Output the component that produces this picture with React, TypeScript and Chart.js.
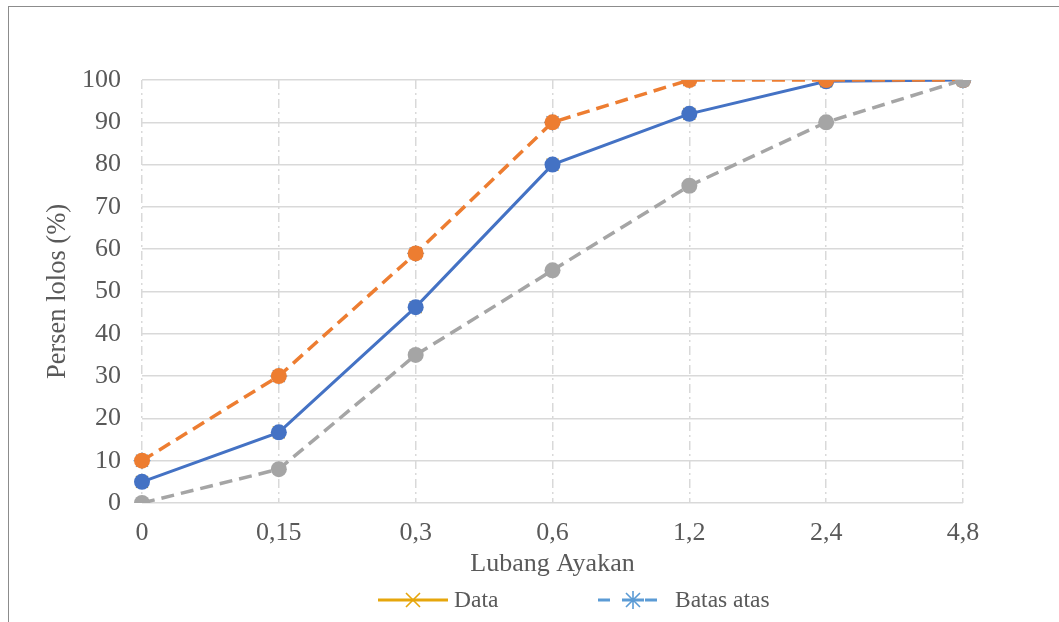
import React, { useEffect, useRef } from 'react';
import { Chart, registerables } from 'chart.js';

Chart.register(...registerables);

// Sieve opening sizes (mm) and percentage passing
const sieveSizes = ['0', '0,15', '0,3', '0,6', '1,2', '2,4', '4,8'];
const passingData = [5, 16.7, 46.3, 80, 92, 99.7, 100];
const upperLimit = [10, 30, 59, 90, 100, 100, 100];
const lowerLimit = [0, 8, 35, 55, 75, 90, 100];
const yRange = [0, 100];
const yStep = 10;
const legendLabels = ['Data', 'Batas atas'];

const BLUE = '#4472C4';
const ORANGE = '#ED7D31';
const GRAY = '#A5A5A5';
const GOLD = '#E6A60C';
const LIGHT_BLUE = '#5B9BD5';
const TEXT = '#595959';
const GRID = '#D9D9D9';
const FONT = '"Liberation Serif", "Times New Roman", serif';

const legendPlugin = {
  id: 'gradationLegend',
  afterDraw(chart: any) {
    const ctx = chart.ctx;
    const y = 600;
    ctx.save();
    ctx.font = `23.5px ${FONT}`;
    ctx.fillStyle = TEXT;
    ctx.textBaseline = 'middle';
    ctx.textAlign = 'left';

    // "Data": solid gold line with an x marker
    ctx.strokeStyle = GOLD;
    ctx.lineWidth = 3;
    ctx.beginPath();
    ctx.moveTo(378, y);
    ctx.lineTo(448, y);
    ctx.stroke();
    ctx.lineWidth = 1.6;
    ctx.beginPath();
    ctx.moveTo(406, y - 7);
    ctx.lineTo(420, y + 7);
    ctx.moveTo(420, y - 7);
    ctx.lineTo(406, y + 7);
    ctx.stroke();
    ctx.fillText(legendLabels[0], 454, y + 1);

    // "Batas atas": dashed blue line with an asterisk marker
    ctx.strokeStyle = LIGHT_BLUE;
    ctx.lineWidth = 3;
    ctx.beginPath();
    ctx.moveTo(598, y);
    ctx.lineTo(610, y);
    ctx.moveTo(645, y);
    ctx.lineTo(657, y);
    ctx.moveTo(622, y);
    ctx.lineTo(644, y);
    ctx.stroke();
    ctx.lineWidth = 1.6;
    ctx.beginPath();
    ctx.moveTo(633, y - 9);
    ctx.lineTo(633, y + 9);
    ctx.moveTo(626, y - 7);
    ctx.lineTo(640, y + 7);
    ctx.moveTo(640, y - 7);
    ctx.lineTo(626, y + 7);
    ctx.stroke();
    ctx.fillText(legendLabels[1], 675, y + 1);
    ctx.restore();
  },
};

export default function App() {
  const canvasRef = useRef<HTMLCanvasElement | null>(null);

  useEffect(() => {
    const canvas = canvasRef.current;
    if (!canvas) return;
    const chart = new Chart(canvas, {
      type: 'line',
      data: {
        labels: sieveSizes,
        datasets: [
          {
            label: 'Batas bawah',
            data: lowerLimit,
            borderColor: GRAY,
            backgroundColor: GRAY,
            borderWidth: 3.5,
            borderDash: [13, 7],
            pointRadius: 8,
            pointBackgroundColor: GRAY,
            pointBorderColor: GRAY,
            pointBorderWidth: 0,
            tension: 0,
            order: 1,
          },
          {
            label: 'Batas atas ',
            data: upperLimit,
            borderColor: ORANGE,
            backgroundColor: ORANGE,
            borderWidth: 3.5,
            borderDash: [13, 7],
            pointRadius: 8,
            pointBackgroundColor: ORANGE,
            pointBorderColor: ORANGE,
            pointBorderWidth: 0,
            tension: 0,
            order: 2,
          },
          {
            label: 'Data ',
            data: passingData,
            borderColor: BLUE,
            backgroundColor: BLUE,
            borderWidth: 3,
            pointRadius: 8,
            pointBackgroundColor: BLUE,
            pointBorderColor: BLUE,
            pointBorderWidth: 0,
            tension: 0,
            order: 3,
          },
          {
            label: legendLabels[1],
            data: upperLimit,
            showLine: false,
            pointStyle: 'star',
            pointRadius: 8.5,
            pointBorderColor: LIGHT_BLUE,
            pointBackgroundColor: LIGHT_BLUE,
            pointBorderWidth: 1.2,
            borderColor: LIGHT_BLUE,
            order: 4,
          },
          {
            label: legendLabels[0],
            data: passingData,
            showLine: false,
            pointStyle: 'crossRot',
            pointRadius: 8.5,
            pointBorderColor: GOLD,
            pointBackgroundColor: GOLD,
            pointBorderWidth: 1.2,
            borderColor: GOLD,
            order: 5,
          },
        ],
      },
      options: {
        responsive: false,
        animation: false,
        events: [],
        layout: { padding: { left: 30, top: 80, right: 96, bottom: 39 } },
        plugins: {
          legend: { display: false },
          tooltip: { enabled: false },
        },
        scales: {
          x: {
            offset: false,
            grid: {
              offset: false,
              color: GRID,
              lineWidth: 1.5,
              drawTicks: false,
            },
            border: { display: false, dash: [9, 4, 2, 4] },
            ticks: {
              color: TEXT,
              font: { family: FONT, size: 26 },
              padding: 15,
              maxRotation: 0,
              autoSkip: false,
            },
            title: {
              display: true,
              text: 'Lubang Ayakan',
              color: TEXT,
              font: { family: FONT, size: 26 },
              padding: { top: 0, bottom: 3 },
            },
            afterFit(scale: any) {
              scale.height = 80;
            },
          },
          y: {
            min: yRange[0],
            max: yRange[1],
            grid: {
              color: GRID,
              lineWidth: 1.5,
              drawTicks: false,
            },
            border: { display: false },
            ticks: {
              stepSize: yStep,
              color: TEXT,
              font: { family: FONT, size: 26 },
              padding: 21,
            },
            title: {
              display: true,
              text: 'Persen lolos (%)',
              color: TEXT,
              font: { family: FONT, size: 26.5 },
              padding: { top: 12, bottom: 0 },
            },
            afterFit(scale: any) {
              scale.width = 112;
            },
          },
        },
      },
      plugins: [legendPlugin],
    });
    return () => chart.destroy();
  }, []);

  return (
    <div
      style={{
        position: 'fixed',
        left: 0,
        top: 0,
        width: 1059,
        height: 622,
        overflow: 'hidden',
        background: '#ffffff',
      }}
    >
      <div
        style={{
          position: 'absolute',
          left: 8,
          top: 6,
          width: 1080,
          height: 660,
          border: '1px solid #8C8C8C',
          boxSizing: 'border-box',
        }}
      />
      <canvas
        ref={canvasRef}
        width={1059}
        height={622}
        style={{ position: 'absolute', left: 0, top: 0, width: 1059, height: 622 }}
      />
    </div>
  );
}
